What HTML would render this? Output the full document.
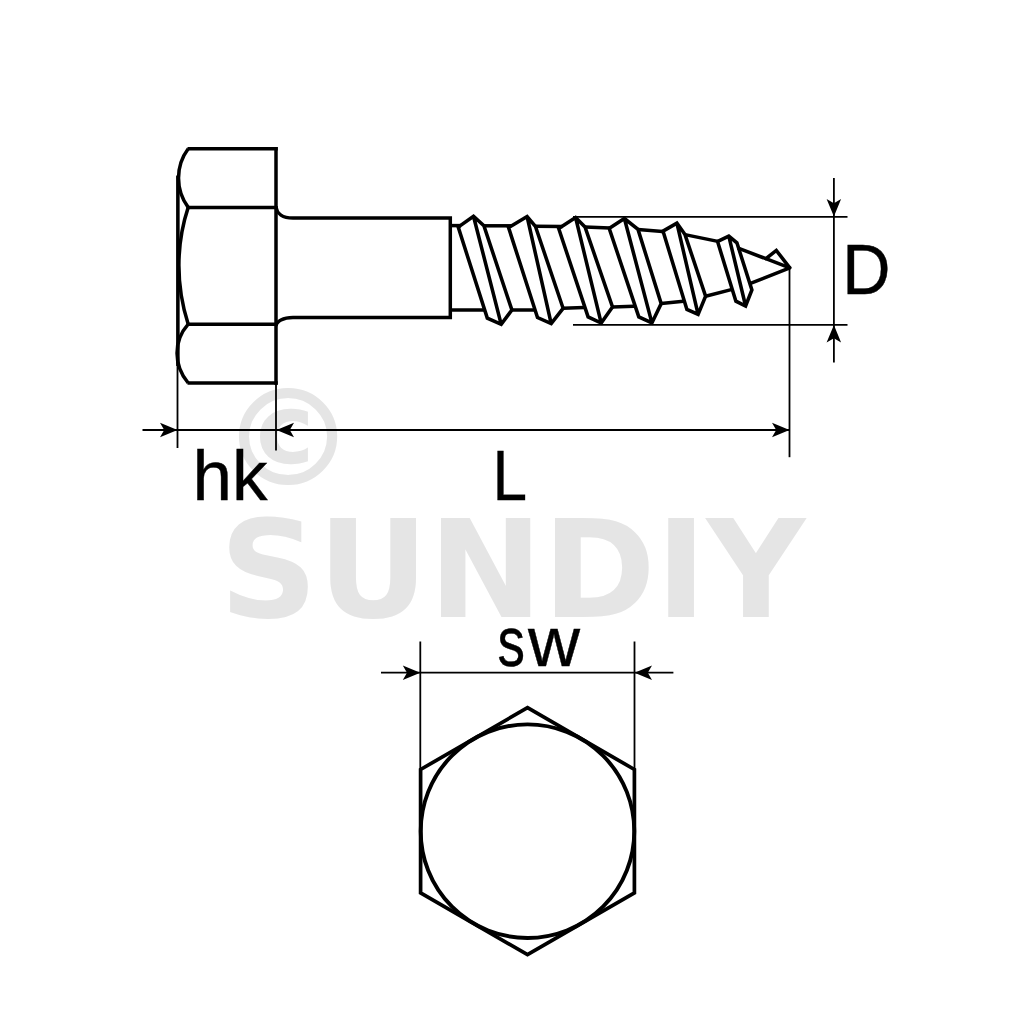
<!DOCTYPE html>
<html lang="en">
<head>
<meta charset="utf-8">
<title>Hex head wood screw - dimensions</title>
<style>
html,body{margin:0;padding:0;background:#fff;}
body{width:1024px;height:1024px;overflow:hidden;}
svg{display:block;position:absolute;left:0;top:0;}
.wm{font-family:"DejaVu Sans","Liberation Sans",sans-serif;font-weight:bold;fill:#e5e5e5;}
.lb{font-family:"Liberation Sans","DejaVu Sans",sans-serif;fill:#000;stroke:#000;stroke-width:0.4;}
.k{fill:none;stroke:#000;stroke-width:3.5;stroke-linejoin:miter;stroke-linecap:butt;}
.t{fill:none;stroke:#000;stroke-width:3.55;stroke-linejoin:miter;stroke-linecap:butt;}
.n{fill:none;stroke:#000;stroke-width:1.8;stroke-linecap:butt;}
.a{fill:#000;stroke:none;}
</style>
</head>
<body>
<svg width="1024" height="1024" viewBox="0 0 1024 1024">
<rect x="0" y="0" width="1024" height="1024" fill="#fff"/>

<!-- watermark -->
<g id="watermark">
<text class="wm" transform="translate(219.500,617.100) scale(1,0.978)" x="0" y="0" font-size="138.5" textLength="585.800" lengthAdjust="spacingAndGlyphs">SUNDIY</text>
<text class="wm" transform="translate(288.100,484.600) scale(0.994,0.98)" x="0" y="0" font-size="136.500" text-anchor="middle">©</text>
</g>

<!-- head side view -->
<g id="head">
<path class="k" d="M277.750,148.800H187.500"/>
<path class="k" d="M276,147.050V384.750"/>
<path class="k" d="M187.500,207.400H276"/>
<path class="k" d="M187.500,324.200H276"/>
<path class="k" d="M187.500,383H277.750"/>
<path class="k" d="M177.900,176V366"/>
<path class="k" d="M188.200,148.800C175.300,166 175.300,190 188.200,207.400"/>
<path class="k" d="M188.200,207.400C175.800,245 175.800,286 188.200,324.200"/>
<path class="k" d="M188.200,324.200C173.300,341 173.300,365 188.200,383"/>
</g>

<!-- shank -->
<g id="shank">
<path class="k" d="M276,206C276.5,214 283,218 293,218H450.3V317.5H293C283,317.5 276.5,321.500 276,326"/>
<path class="k" d="M450,225.600H461"/>
<path class="k" d="M450,310H485"/>
</g>

<!-- thread -->
<g id="thread">
<path class="t" d="M460.3,225.6 L473.5,216.2 L483.9,225.8 L511.9,310 L501.2,324.4 L487.3,318.1 L458.3,227.4 Z M473.5,216.2 L501.2,324.4"/>
<path class="t" d="M511.7,225.8 L527.1,216.5 L535.4,226.3 L563.1,308.3 L551.2,323.6 L537.5,317.5 L508.5,227.4 Z M527.1,216.5 L551.2,323.6"/>
<path class="t" d="M561.8,226.6 L575.6,217.5 L585,227 L612.5,306.9 L601.2,323.1 L588.1,316.9 L558.6,228.2 Z M575.6,217.5 L601.2,323.1"/>
<path class="t" d="M609.8,227.9 L624.4,218.5 L638,229.4 L661.2,303.6 L651.9,322.9 L638.8,316.9 L609.6,229.5 Z M624.4,218.5 L651.9,322.9"/>
<path class="t" d="M662.6,231.4 L676.9,223.1 L685,234.6 L705.6,296.2 L698.1,314.4 L686.9,309.4 L663.6,233 Z M676.9,223.1 L698.1,314.4"/>
<path class="t" d="M717.8,241.4 L728.8,236.1 L736.9,242.8 L751.9,290 L745.6,306 L735.9,301.2 L718,243 Z M728.8,236.1 L745.6,306"/>
<path class="k" d="M483.9,225.8 L511.7,225.8"/>
<path class="k" d="M535.4,226.3 L561.8,226.6"/>
<path class="k" d="M585,227 L609.8,227.9"/>
<path class="k" d="M638,229.4 L662.6,231.4"/>
<path class="k" d="M685,234.6 L717.8,241.4"/>
<path class="k" d="M511.9,310 L534,310"/>
<path class="k" d="M563.1,308.2 L584,307.6"/>
<path class="k" d="M612.5,306.9 L634,306.3"/>
<path class="k" d="M661.2,303.4 L683.4,301.3"/>
<path class="k" d="M705.6,296.2 L732.2,289.4"/>
<path class="t" style="stroke-linejoin:round" d="M737.5,247.9 L789.8,267.8 L750.5,283.4"/>
<path class="t" style="stroke-linecap:round" d="M766,258.6 L776.3,250.4 L789.4,267.4"/>
</g>

<!-- dimension lines -->
<g id="dims">
<path class="n" d="M177.500,175V448"/>
<path class="n" d="M276,384V450.600"/>
<path class="n" d="M789.5,268V457.200"/>
<path class="n" d="M142.500,430H789.500"/>
<path class="n" d="M573,216.800H847.500"/>
<path class="n" d="M573,324.800H847.500"/>
<path class="n" d="M833.900,178V362.600"/>
<path class="n" d="M420.300,641.500V770"/>
<path class="n" d="M634.500,641.500V770"/>
<path class="n" d="M381,672.700H673.400"/>
</g>

<!-- arrows -->
<g id="arrows">
<path class="a" d="M177.5,430 L160,437.2 L164.2,430 L160,422.8 Z"/>
<path class="a" d="M276.5,430 L294,422.8 L289.8,430 L294,437.2 Z"/>
<path class="a" d="M789.5,430 L772,437.2 L776.2,430 L772,422.8 Z"/>
<path class="a" d="M833.9,216.5 L826.6,199 L833.9,203.2 L841.1,199 Z"/>
<path class="a" d="M833.9,325 L841.1,342.5 L833.9,338.3 L826.6,342.5 Z"/>
<path class="a" d="M420.3,672.7 L402.8,680 L407,672.7 L402.8,665.5 Z"/>
<path class="a" d="M634.5,672.7 L652,665.5 L647.8,672.7 L652,680 Z"/>
</g>

<!-- hex view -->
<g id="hex">
<path class="t" style="stroke-width:3.7" d="M527.500,707.700L634.400,769.500V892.900L527.500,954.700L420.600,892.900V769.500Z"/>
<circle class="k" style="stroke-width:3.9" cx="527.500" cy="831.200" r="106.800"/>
</g>

<!-- labels -->
<g id="labels">
<text class="lb" x="192.500" y="500" font-size="71">hk</text>
<text class="lb" transform="translate(492.6,500) scale(0.875,1)" x="0" y="0" font-size="71">L</text>
<text class="lb" transform="translate(842.3,293.5) scale(0.955,1)" x="0" y="0" font-size="70">D</text>
<text class="lb" x="497.600" y="665.600" font-size="69.500"><tspan textLength="27.500" lengthAdjust="spacingAndGlyphs">s</tspan><tspan dx="3" textLength="52" lengthAdjust="spacingAndGlyphs">w</tspan></text>
</g>
</svg>
</body>
</html>
